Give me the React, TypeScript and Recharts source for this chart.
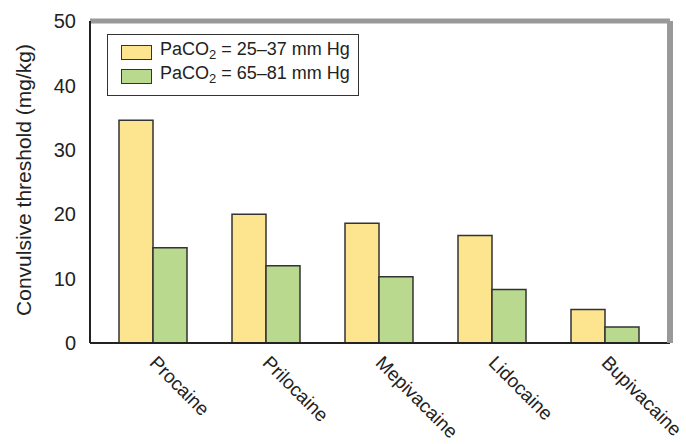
import { BarChart, Bar, XAxis, YAxis, CartesianGrid, ReferenceLine } from 'recharts'

const drugs = ['Procaine', 'Prilocaine', 'Mepivacaine', 'Lidocaine', 'Bupivacaine']
const lowPaco2 = [34.6, 20, 18.6, 16.7, 5.2]
const highPaco2 = [14.8, 12, 10.3, 8.3, 2.5]
const yTicks = [0, 10, 20, 30, 40, 50]

const YELLOW = '#FDE58F'
const GREEN = '#B9D98F'
const EDGE = '#333'
const FONT = '"Liberation Sans", Arial, Helvetica, sans-serif'

const data = drugs.map((name, i) => ({ name, low: lowPaco2[i], high: highPaco2[i] }))

function DrugTick({ x, y, payload }: any) {
  return (
    <g transform={`translate(${x - 4},${y + 21})`}>
      <text transform="rotate(45)" textAnchor="start" fill="#222" fontSize={19} fontFamily={FONT}>
        {payload.value}
      </text>
    </g>
  )
}

function AxisTitle({ viewBox }: any) {
  const cx = 31
  const cy = viewBox.y + viewBox.height / 2 - 2
  return (
    <text x={cx} y={cy} transform={`rotate(-90 ${cx} ${cy})`} textAnchor="middle" fill="#222" fontSize={21} fontFamily={FONT}>
      Convulsive threshold (mg/kg)
    </text>
  )
}

function LegendRow({ color, range }: { color: string; range: string }) {
  return (
    <div style={{ display: 'flex', alignItems: 'center', height: 24 }}>
      <span style={{ width: 29, height: 13, background: color, border: `1.5px solid ${EDGE}`, marginRight: 8 }} />
      <span>
        PaCO<sub style={{ fontSize: 13, verticalAlign: -4 }}>2</sub> = {range} mm Hg
      </span>
    </div>
  )
}

export default function App() {
  return (
    <div style={{ position: 'absolute', left: 0, top: 0, width: 686, height: 444, background: '#fff', fontFamily: FONT }}>
      <BarChart
        width={686}
        height={444}
        data={data}
        margin={{ top: 21, right: 10, bottom: 0, left: 0 }}
        barGap={0}
        barSize={34}
      >
        <CartesianGrid vertical={false} stroke="#bbb" strokeWidth={1} />
        <XAxis
          dataKey="name"
          height={101}
          interval={0}
          tickLine={false}
          tickSize={0}
          tickMargin={0}
          padding={{ left: 6, right: 9 }}
          axisLine={{ stroke: '#222', strokeWidth: 2 }}
          tick={<DrugTick />}
        />
        <YAxis
          yAxisId="left"
          width={90}
          domain={[0, 50]}
          ticks={yTicks}
          tickLine={false}
          tickMargin={8}
          axisLine={{ stroke: '#222', strokeWidth: 2 }}
          tick={{ fontSize: 20, fill: '#222', fontFamily: FONT }}
          label={<AxisTitle />}
        />
        <YAxis
          yAxisId="right"
          orientation="right"
          width={6}
          domain={[0, 50]}
          tick={false}
          tickLine={false}
          axisLine={{ stroke: '#999', strokeWidth: 6 }}
        />
        <ReferenceLine yAxisId="left" y={50} stroke="#999" strokeWidth={5} />
        <Bar yAxisId="left" dataKey="low" fill={YELLOW} stroke={EDGE} strokeWidth={1.5} isAnimationActive={false} />
        <Bar yAxisId="left" dataKey="high" fill={GREEN} stroke={EDGE} strokeWidth={1.5} isAnimationActive={false} />
      </BarChart>
      <div
        style={{
          position: 'absolute',
          left: 107,
          top: 34,
          width: 252,
          height: 62,
          border: `1.5px solid ${EDGE}`,
          background: '#fff',
          boxSizing: 'border-box',
          padding: '5px 0 0 13px',
          fontSize: 18,
          color: '#222',
          lineHeight: '18px',
        }}
      >
        <LegendRow color={YELLOW} range="25–37" />
        <LegendRow color={GREEN} range="65–81" />
      </div>
    </div>
  )
}
